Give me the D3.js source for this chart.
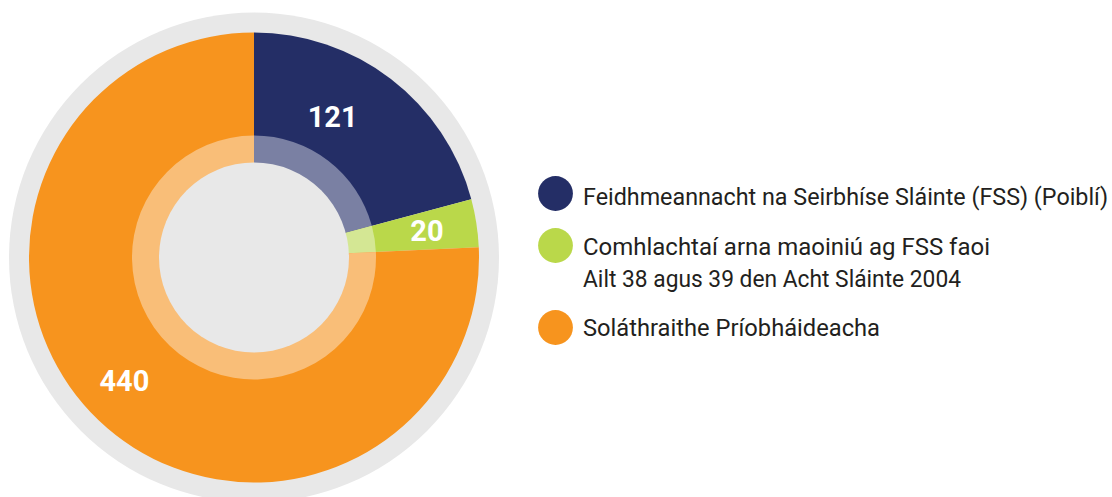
<!DOCTYPE html>
<html>
<head>
<meta charset="utf-8">
<script src="https://cdn.jsdelivr.net/npm/d3@7"></script>
<style>
  body { margin: 0; background: #fff; }
  svg { display: block; }
  .legend text { font-family: "Liberation Sans Narrow", "Roboto", sans-serif; font-size: 23px; fill: #231f20; }
  .value { font-family: Roboto, "Liberation Sans", sans-serif; font-weight: 700; font-size: 29px; fill: #fff; }
</style>
</head>
<body>
<div id="chart"></div>
<script>
// data
var categories = [
    ["Feidhmeannacht na Seirbhíse Sláinte (FSS) (Poiblí)"],
    ["Comhlachtaí arna maoiniú ag FSS faoi", "Ailt 38 agus 39 den Acht Sláinte 2004"],
    ["Soláthraithe Príobháideacha"]
];
var values = [121, 20, 440];
var colours = ["#242e66", "#bad84a", "#f7941e"];
var lightColours = ["#7a80a3", "#d4e794", "#f9be78"];
// where the number sits inside its slice (fraction of the slice angle, radius)
var labelAt = [[0.39, 161], [0.5, 175], [0.51, 179]];

var width = 1112, height = 497;
var cx = 254, cy = 257.5;

var svg = d3.select("#chart")
    .append("svg")
    .attr("width", width)
    .attr("height", height);

var g = svg.append("g")
    .attr("transform", "translate(" + cx + "," + cy + ")");

// grey outer ring
g.append("circle")
    .attr("r", 245)
    .attr("fill", "#e8e8e8");

var pie = d3.pie().sort(null).value(function(d) { return d; });
var arcs = pie(values);

var outerArc = d3.arc().innerRadius(0).outerRadius(225);
var innerArc = d3.arc().innerRadius(0).outerRadius(122);

g.selectAll("path.outer")
    .data(arcs)
    .enter()
    .append("path")
    .attr("class", "outer")
    .attr("d", outerArc)
    .attr("fill", function(d, i) { return colours[i]; });

g.selectAll("path.inner")
    .data(arcs)
    .enter()
    .append("path")
    .attr("class", "inner")
    .attr("d", innerArc)
    .attr("fill", function(d, i) { return lightColours[i]; });

g.append("circle")
    .attr("r", 95)
    .attr("fill", "#e8e8e8");

// numbers
g.selectAll("text.value")
    .data(arcs)
    .enter()
    .append("text")
    .attr("class", "value")
    .attr("text-anchor", "middle")
    .attr("dy", "0.36em")
    .attr("x", function(d, i) {
        var a = d.startAngle + labelAt[i][0] * (d.endAngle - d.startAngle);
        return Math.sin(a) * labelAt[i][1];
    })
    .attr("y", function(d, i) {
        var a = d.startAngle + labelAt[i][0] * (d.endAngle - d.startAngle);
        return -Math.cos(a) * labelAt[i][1];
    })
    .text(function(d) { return d.data; });

// legend
var legendY = [193.5, 245.5, 327.5];
var baseline = [11.5, 9.5, 8.5];
var lineWidths = [[525], [407, 378], [297]];
var legend = svg.append("g").attr("class", "legend");

var item = legend.selectAll("g.item")
    .data(categories)
    .enter()
    .append("g")
    .attr("class", "item")
    .attr("transform", function(d, i) { return "translate(0," + legendY[i] + ")"; });

item.append("circle")
    .attr("cx", 555.5)
    .attr("r", 17.4)
    .attr("fill", function(d, i) { return colours[i]; });

item.each(function(lines, i) {
    var sel = d3.select(this);
    lines.forEach(function(line, j) {
        sel.append("text")
            .attr("x", 583)
            .attr("y", baseline[i] + j * 31.7)
            .attr("textLength", lineWidths[i][j])
            .attr("lengthAdjust", "spacingAndGlyphs")
            .text(line);
    });
});
</script>
</body>
</html>
